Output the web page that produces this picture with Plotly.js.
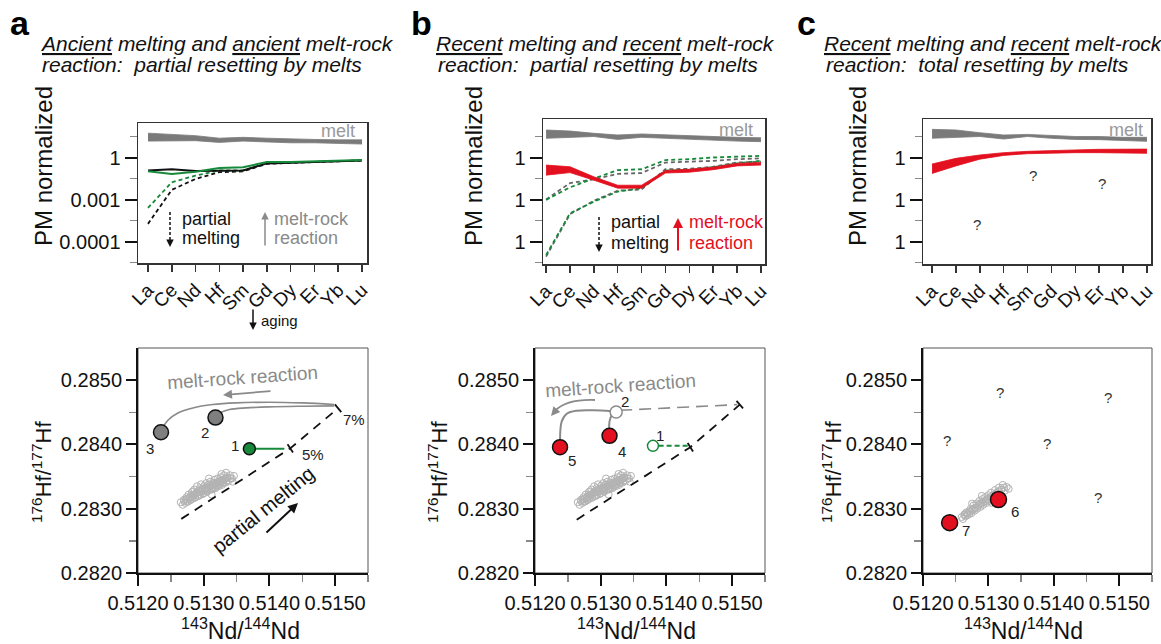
<!DOCTYPE html>
<html><head><meta charset="utf-8">
<script src="https://cdn.plot.ly/plotly-3.0.1.min.js"></script>
<style>html,body{margin:0;padding:0;background:#fff}#chart{width:1161px;height:644px}</style>
</head><body><div id="chart"></div>
<script>
// ---------- DATA ----------
const elements = ['La','Ce','Nd','Hf','Sm','Gd','Dy','Er','Yb','Lu'];
// PM-normalized values, in decade positions of the drawn axis (3 = "1", 2 = "0.001", 1 = "0.0001")
const pmTickVals = [1, 2, 3];
const pmTickText = ['0.0001', '0.001', '1'];
const pmTickTextClipped = ['1', '1', '1'];
const pmMinorVals = [0.5, 1.5, 2.5, 3.5];

// panel a (ancient)
const meltA_hi = [3.58,3.55,3.52,3.46,3.48,3.46,3.44,3.43,3.42,3.42];
const meltA_lo = [3.39,3.40,3.40,3.36,3.39,3.37,3.35,3.35,3.33,3.32];
const ancientSolidBlack = [2.69,2.72,2.68,2.68,2.69,2.86,2.88,2.90,2.92,2.93];
const ancientSolidGreen = [2.67,2.61,2.66,2.75,2.77,2.89,2.89,2.91,2.93,2.94];
const ancientDashBlack  = [1.42,2.23,2.49,2.65,2.67,2.85,2.87,2.89,2.91,2.93];
const ancientDashGreen  = [1.80,2.41,2.57,2.69,2.69,2.87,2.88,2.90,2.92,2.93];

// panel b (recent, partial)
const meltB_hi = [3.655,3.63,3.576,3.536,3.56,3.536,3.52,3.50,3.48,3.47];
const meltB_lo = [3.457,3.48,3.50,3.43,3.48,3.457,3.43,3.417,3.39,3.377];
const redB_hi = [2.82,2.78,2.54,2.34,2.34,2.69,2.72,2.77,2.86,2.88];
const redB_lo = [2.58,2.64,2.46,2.27,2.27,2.63,2.65,2.71,2.80,2.82];
const dashGreenUpB = [1.99,2.29,2.50,2.70,2.72,2.94,2.96,3.00,3.02,3.04];
const dashGrayUpB  = [2.00,2.39,2.48,2.61,2.63,2.88,2.90,2.92,2.96,2.98];
const dashGreenLoB = [0.68,1.67,1.95,2.19,2.27,2.69,2.70,2.77,2.86,2.92];
const dashGrayLoB  = [0.64,1.65,1.97,2.21,2.24,2.72,2.73,2.78,2.88,2.90];

// panel c (recent, total)
const meltC_hi = [3.67,3.655,3.59,3.536,3.55,3.52,3.50,3.50,3.48,3.48];
const meltC_lo = [3.457,3.48,3.50,3.44,3.50,3.457,3.43,3.425,3.40,3.385];
const redC_hi = [2.845,2.98,3.06,3.115,3.147,3.17,3.18,3.195,3.195,3.20];
const redC_lo = [2.62,2.80,2.96,3.05,3.09,3.107,3.115,3.115,3.115,3.10];

// isotope axes
const ndTickVals = [0.512, 0.513, 0.514, 0.515];
const ndTickText = ['0.5120', '0.5130', '0.5140', '0.5150'];
const ndMinorVals = [0.5125, 0.5135, 0.5145, 0.5155];
const hfTickVals = [0.282, 0.283, 0.284, 0.285];
const hfTickText = ['0.2820', '0.2830', '0.2840', '0.2850'];
const hfMinorVals = [0.2825, 0.2835, 0.2845];

// peridotite field (panels a, b)
const cloudNd = [0.51265,0.51268,0.51270,0.51272,0.51274,0.51276,0.51277,0.51279,0.51280,0.51282,0.51283,0.51285,0.51286,0.51287,0.51289,0.51290,0.51291,0.51293,0.51294,0.51295,0.51296,0.51297,0.51298,0.51300,0.51301,0.51302,0.51303,0.51304,0.51305,0.51306,0.51307,0.51308,0.51309,0.51310,0.51311,0.51312,0.51313,0.51314,0.51315,0.51316,0.51317,0.51318,0.51319,0.51320,0.51321,0.51322,0.51323,0.51324,0.51325,0.51326,0.51327,0.51328,0.51329,0.51330,0.51331,0.51332,0.51334,0.51336,0.51338,0.51340,0.51343,0.51346,0.51334,0.51327,0.51284,0.51344,0.51308,0.51312,
  0.51270,0.51273,0.51276,0.51279,0.51282,0.51285,0.51288,0.51291,0.51294,0.51297,0.51300,0.51303,0.51306,0.51309,0.51312,0.51315,0.51318,0.51321,0.51324,0.51327,0.51330,0.51333,0.51336,0.51275,0.51281,0.51287,0.51293,0.51299,0.51305,0.51311,0.51317,0.51323,0.51329,0.51335,0.51341];
const cloudHf = [0.28310,0.28306,0.28314,0.28309,0.28318,0.28311,0.28322,0.28313,0.28319,0.28326,0.28316,0.28322,0.28330,0.28318,0.28325,0.28335,0.28320,0.28328,0.28332,0.28322,0.28338,0.28327,0.28331,0.28324,0.28336,0.28329,0.28333,0.28340,0.28326,0.28331,0.28337,0.28329,0.28334,0.28342,0.28331,0.28337,0.28330,0.28340,0.28334,0.28345,0.28338,0.28332,0.28341,0.28336,0.28347,0.28340,0.28335,0.28343,0.28338,0.28349,0.28342,0.28337,0.28345,0.28340,0.28352,0.28346,0.28341,0.28349,0.28344,0.28352,0.28347,0.28351,0.28356,0.28354,0.28327,0.28342,0.28347,0.28322,
  0.28312,0.28315,0.28316,0.28317,0.28320,0.28321,0.28323,0.28325,0.28326,0.28328,0.28330,0.28331,0.28333,0.28335,0.28336,0.28338,0.28339,0.28341,0.28342,0.28344,0.28345,0.28347,0.28348,0.28311,0.28314,0.28317,0.28320,0.28323,0.28327,0.28330,0.28333,0.28337,0.28340,0.28343,0.28347];
// peridotite field (panel c)
const cloudCNd = [0.51259,0.51261,0.51263,0.51265,0.51266,0.51268,0.51270,0.51271,0.51273,0.51274,0.51276,0.51277,0.51279,0.51280,0.51282,0.51283,0.51285,0.51286,0.51288,0.51289,0.51291,0.51292,0.51294,0.51295,0.51297,0.51298,0.51300,0.51301,0.51303,0.51304,0.51306,0.51308,0.51310,0.51312,0.51314,0.51316,0.51318,0.51320,0.51322,0.51325,0.51328,0.51331,0.51275,0.51290,0.51305,
  0.51264,0.51268,0.51272,0.51276,0.51280,0.51284,0.51288,0.51292,0.51296,0.51300,0.51304,0.51308,0.51312,0.51316,0.51320,0.51324];
const cloudCHf = [0.28287,0.28284,0.28291,0.28288,0.28294,0.28290,0.28296,0.28292,0.28300,0.28293,0.28299,0.28305,0.28297,0.28302,0.28308,0.28300,0.28306,0.28312,0.28303,0.28309,0.28315,0.28306,0.28312,0.28318,0.28309,0.28315,0.28321,0.28312,0.28318,0.28325,0.28315,0.28322,0.28329,0.28318,0.28326,0.28333,0.28322,0.28330,0.28337,0.28328,0.28334,0.28331,0.28308,0.28320,0.28309,
  0.28290,0.28293,0.28296,0.28298,0.28301,0.28304,0.28307,0.28310,0.28312,0.28315,0.28318,0.28321,0.28324,0.28327,0.28330,0.28333];

// panel a isotope model
const meltLineA_Nd = [0.512659, 0.514317, 0.515045];
const meltLineA_Hf = [0.282842, 0.283939, 0.284563];
const react3A_Nd = [0.514985,0.514504,0.513998,0.513492,0.513138,0.512835,0.512607,0.512455,0.512379];
const react3A_Hf = [0.284621,0.284646,0.284657,0.284646,0.284620,0.284568,0.284490,0.284376,0.284262];
const react2A_Nd = [0.514985,0.514504,0.513998,0.513644,0.513391,0.513239];
const react2A_Hf = [0.284600,0.284594,0.284584,0.284568,0.284542,0.284490];
const greenLineA_Nd = [0.513695, 0.514227];
const greenLineA_Hf = [0.283934, 0.283934];
const grayPtsA_Nd = [0.512350, 0.513179];
const grayPtsA_Hf = [0.284190, 0.284418];
const greenPtA_Nd = [0.513695];
const greenPtA_Hf = [0.283934];

// panel b isotope model
const meltLineB_Nd = [0.512635, 0.514364, 0.515116];
const meltLineB_Hf = [0.282830, 0.283957, 0.284619];
const grayDashB_Nd = [0.513296, 0.515076];
const grayDashB_Hf = [0.284531, 0.284619];
const curve5B_Nd = [0.513169,0.512890,0.512635,0.512483,0.512407,0.512381];
const curve5B_Hf = [0.284515,0.284531,0.284525,0.284478,0.284358,0.284071];
const curve4B_Nd = [0.513169,0.513134,0.513129];
const curve4B_Hf = [0.284463,0.284358,0.284228];
const greenDashB_Nd = [0.513881, 0.514339];
const greenDashB_Hf = [0.283978, 0.283978];
const openPtB_Nd = [0.513235];
const openPtB_Hf = [0.284504];
const redPtsB_Nd = [0.513134, 0.512381];
const redPtsB_Hf = [0.284134, 0.283957];
const greenOpenB_Nd = [0.513795];
const greenOpenB_Hf = [0.283978];

// panel c isotope
const redPtsC_Nd = [0.513154, 0.512407];
const redPtsC_Hf = [0.283143, 0.282783];

// ---------- LAYOUT HELPERS ----------
const W = 1161, H = 644;
const F = 'Liberation Sans, Arial, sans-serif';
const fx = p => p / W;
const fy = p => 1 - p / H;
const GREEN = '#16893a', RED = '#e3101f', GRAY = '#8a8a8a', MELT = '#7a7a7a';

function catAxis(l, r, range) {
  return {domain:[fx(l), fx(r)], type:'category', categoryorder:'array', categoryarray:elements,
    range:range, tickmode:'array', tickvals:elements, ticks:'outside', ticklen:7, tickwidth:1.5,
    tickcolor:'#333', tickangle:-45, tickfont:{family:F, size:19, color:'#111'},
    showline:true, linecolor:'#333', linewidth:1.5, mirror:true, showgrid:false, zeroline:false, fixedrange:true};
}
function pmAxis(top, bottom, text) {
  const unit = 42, one = 157.5;
  return {domain:[fy(bottom), fy(top)], range:[3 - (bottom-one)/unit, 3 + (one-top)/unit],
    tickmode:'array', tickvals:pmTickVals, ticktext:text, ticks:'outside', ticklen:12, tickwidth:2,
    tickcolor:'#111', tickfont:{family:F, size:20, color:'#111'},
    minor:{tickmode:'array', tickvals:pmMinorVals, ticks:'outside', ticklen:7, tickwidth:1.5, tickcolor:'#888'},
    showline:true, linecolor:'#333', linewidth:1.5, mirror:true, showgrid:false, zeroline:false, fixedrange:true};
}
function ndAxis(l, r) {
  return {domain:[fx(l), fx(r)], range:[0.512, 0.5155], tickmode:'array', tickvals:ndTickVals, ticktext:ndTickText,
    ticks:'outside', ticklen:11, tickwidth:2, tickcolor:'#111', tickfont:{family:F, size:20, color:'#111'},
    minor:{tickmode:'array', tickvals:ndMinorVals, ticks:'outside', ticklen:7, tickwidth:1.5, tickcolor:'#888'},
    showline:true, linecolor:'#111', linewidth:2, showgrid:false, zeroline:false, fixedrange:true};
}
function hfAxis() {
  return {domain:[fy(573), fy(348)], range:[0.282, 0.2855], tickmode:'array', tickvals:hfTickVals, ticktext:hfTickText,
    ticks:'outside', ticklen:10, tickwidth:2, tickcolor:'#111', tickfont:{family:F, size:20, color:'#111'},
    minor:{tickmode:'array', tickvals:hfMinorVals, ticks:'outside', ticklen:7, tickwidth:1.5, tickcolor:'#888'},
    showline:true, linecolor:'#111', linewidth:2, showgrid:false, zeroline:false, fixedrange:true};
}

// ---------- TRACES ----------
const traces = [];
function line(xa, ya, x, y, color, width, dash, extra) {
  traces.push(Object.assign({x, y, xaxis:xa, yaxis:ya, mode:'lines', line:{color, width, dash:dash||'solid'}, hoverinfo:'skip'}, extra||{}));
}
function band(xa, ya, lo, hi, color) {
  traces.push({x:elements, y:lo, xaxis:xa, yaxis:ya, mode:'lines', line:{color, width:0.8}, hoverinfo:'skip'});
  traces.push({x:elements, y:hi, xaxis:xa, yaxis:ya, mode:'lines', line:{color, width:0.8}, fill:'tonexty', fillcolor:color, hoverinfo:'skip'});
}
function pts(xa, ya, x, y, marker) {
  traces.push({x, y, xaxis:xa, yaxis:ya, mode:'markers', marker, hoverinfo:'skip'});
}
const DASH = '4px,3px';
const CLOUD = {symbol:'circle-open', size:7, color:'#b3b3b3', line:{width:1}};

// top a
band('x','y', meltA_lo, meltA_hi, MELT);
line('x','y', elements, ancientDashBlack, '#111', 1.8, DASH);
line('x','y', elements, ancientDashGreen, GREEN, 1.8, DASH);
line('x','y', elements, ancientSolidBlack, '#111', 2);
line('x','y', elements, ancientSolidGreen, GREEN, 2);

// top b
band('x2','y2', meltB_lo, meltB_hi, MELT);
line('x2','y2', elements, dashGrayUpB, '#666', 1.8, DASH);
line('x2','y2', elements, dashGreenUpB, GREEN, 1.8, DASH);
line('x2','y2', elements, dashGrayLoB, '#666', 1.8, DASH);
line('x2','y2', elements, dashGreenLoB, GREEN, 1.8, DASH);
band('x2','y2', redB_lo, redB_hi, RED);

// top c
band('x3','y3', meltC_lo, meltC_hi, MELT);
band('x3','y3', redC_lo, redC_hi, RED);

// perpendicular end bars on melting lines
const PXX = 65.7 / 0.001, PXY = 64.3 / 0.001;
function bar(xa, ya, xs, ys, i, half) {
  const dx = (xs[i]-xs[i-1])*PXX, dy = (ys[i]-ys[i-1])*PXY;
  const n = Math.hypot(dx, dy), nx = -dy/n, ny = dx/n;
  line(xa, ya, [xs[i]-nx*half/PXX, xs[i]+nx*half/PXX], [ys[i]-ny*half/PXY, ys[i]+ny*half/PXY], '#111', 1.8);
}

// bottom a
pts('x4','y4', cloudNd, cloudHf, CLOUD);
line('x4','y4', meltLineA_Nd, meltLineA_Hf, '#111', 1.8, '9px,7px');
bar('x4','y4', meltLineA_Nd, meltLineA_Hf, 1, 5);
bar('x4','y4', meltLineA_Nd, meltLineA_Hf, 2, 5);
line('x4','y4', react3A_Nd, react3A_Hf, GRAY, 1.6, 'solid', {line:{color:GRAY, width:1.6, shape:'spline'}});
line('x4','y4', react2A_Nd, react2A_Hf, GRAY, 1.6, 'solid', {line:{color:GRAY, width:1.6, shape:'spline'}});
line('x4','y4', greenLineA_Nd, greenLineA_Hf, GREEN, 2);
pts('x4','y4', grayPtsA_Nd, grayPtsA_Hf, {size:15, color:'#7f7f7f', line:{color:'#111', width:1.5}});
pts('x4','y4', greenPtA_Nd, greenPtA_Hf, {size:12, color:GREEN, line:{color:'#111', width:1.5}});

// bottom b
pts('x5','y5', cloudNd, cloudHf, CLOUD);
line('x5','y5', meltLineB_Nd, meltLineB_Hf, '#111', 1.8, '9px,7px');
bar('x5','y5', meltLineB_Nd, meltLineB_Hf, 1, 5);
bar('x5','y5', meltLineB_Nd, meltLineB_Hf, 2, 5);
line('x5','y5', grayDashB_Nd, grayDashB_Hf, GRAY, 1.6, '12px,7px');
line('x5','y5', curve5B_Nd, curve5B_Hf, GRAY, 2, 'solid', {line:{color:GRAY, width:2, shape:'spline'}});
line('x5','y5', curve4B_Nd, curve4B_Hf, GRAY, 2, 'solid', {line:{color:GRAY, width:2, shape:'spline'}});
line('x5','y5', greenDashB_Nd, greenDashB_Hf, GREEN, 2, '5px,3px');
pts('x5','y5', openPtB_Nd, openPtB_Hf, {size:12, color:'#fff', line:{color:'#8a8a8a', width:1.5}});
pts('x5','y5', redPtsB_Nd, redPtsB_Hf, {size:15, color:RED, line:{color:'#111', width:1.5}});
pts('x5','y5', greenOpenB_Nd, greenOpenB_Hf, {size:11, color:'#fff', line:{color:GREEN, width:1.5}});

// bottom c
pts('x6','y6', cloudCNd, cloudCHf, CLOUD);
pts('x6','y6', redPtsC_Nd, redPtsC_Hf, {size:16, color:RED, line:{color:'#111', width:1.5}});

// ---------- ANNOTATIONS ----------
const ann = [];
function txt(x, y, text, o) {
  ann.push(Object.assign({xref:'paper', yref:'paper', x:fx(x), y:fy(y), text, showarrow:false,
    xanchor:'center', yanchor:'middle', font:{family:F, size:18, color:'#111'}}, o||{}));
}
function arrow(x1, y1, x2, y2, color, width) {
  ann.push({xref:'paper', yref:'paper', x:fx(x2), y:fy(y2), ax:x1-x2, ay:y1-y2, axref:'pixel', ayref:'pixel',
    showarrow:true, arrowhead:2, arrowsize:1, arrowwidth:width, arrowcolor:color, text:''});
}
const titleFont = {family:F, size:21, color:'#111'};
// panel letters
txt(20, 23, '<b>a</b>', {font:{family:F, size:34, color:'#000'}});
txt(421, 23, '<b>b</b>', {font:{family:F, size:34, color:'#000'}});
txt(806, 23, '<b>c</b>', {font:{family:F, size:34, color:'#000'}});
// panel titles
txt(38, 43, '<i><u>Ancient</u> melting and <u>ancient</u> melt-rock</i>', {xanchor:'left', font:titleFont});
txt(40, 65, '<i>reaction:&nbsp; partial resetting by melts</i>', {xanchor:'left', font:titleFont});
txt(434, 43, '<i><u>Recent</u> melting and <u>recent</u> melt-rock</i>', {xanchor:'left', font:titleFont});
txt(436, 65, '<i>reaction:&nbsp; partial resetting by melts</i>', {xanchor:'left', font:titleFont});
txt(822, 43, '<i><u>Recent</u> melting and <u>recent</u> melt-rock</i>', {xanchor:'left', font:titleFont});
txt(824, 65, '<i>reaction:&nbsp; total resetting by melts</i>', {xanchor:'left', font:titleFont});
// axis titles
[43, 473, 857].forEach(x => txt(x, 166, 'PM normalized', {textangle:-90, font:{family:F, size:24, color:'#111'}}));
[42, 438, 832].forEach(x => txt(x, 472, '<sup>176</sup>Hf/<sup>177</sup>Hf', {textangle:-90, font:{family:F, size:22, color:'#111'}}));
[240, 636, 1023].forEach(x => txt(x, 629, '<sup>143</sup>Nd/<sup>144</sup>Nd', {font:{family:F, size:23, color:'#111'}}));
// melt labels
txt(357, 131, 'melt', {xanchor:'right', font:{family:F, size:18, color:'#999'}});
txt(755, 130, 'melt', {xanchor:'right', font:{family:F, size:18, color:'#999'}});
txt(1145, 130, 'melt', {xanchor:'right', font:{family:F, size:18, color:'#999'}});
// top a arrows/text
arrow(170, 240, 170, 247, '#111', 1.5);
txt(180, 219, 'partial', {xanchor:'left'});
txt(180, 238, 'melting', {xanchor:'left'});
arrow(265, 247, 265, 212, GRAY, 1.5);
txt(272, 219, 'melt-rock', {xanchor:'left', font:{family:F, size:18, color:GRAY}});
txt(272, 238, 'reaction', {xanchor:'left', font:{family:F, size:18, color:GRAY}});
arrow(253, 308, 253, 330, '#111', 1.5);
txt(279, 320, 'aging', {font:{family:F, size:15, color:'#111'}});
// top b arrows/text
arrow(599, 245, 599, 252, '#111', 1.5);
txt(609, 222, 'partial', {xanchor:'left'});
txt(609, 243, 'melting', {xanchor:'left'});
arrow(678, 252, 678, 218, RED, 2);
txt(687, 222, 'melt-rock', {xanchor:'left', font:{family:F, size:18, color:RED}});
txt(687, 243, 'reaction', {xanchor:'left', font:{family:F, size:18, color:RED}});
// top c question marks
[[1033,175],[1102,183],[977,225]].forEach(([x,y]) => txt(x, y, '?', {font:{family:F, size:15, color:'#333'}}));
// bottom a
txt(242, 377, 'melt-rock reaction', {textangle:-4, font:{family:F, size:19, color:GRAY}});
arrow(272, 391, 223, 395, GRAY, 1.8);
txt(263, 510, 'partial melting', {textangle:-39, font:{family:F, size:20, color:'#111'}});
arrow(265, 534, 298, 503, '#111', 2);
const numFont = {family:F, size:15, color:'#222'};
txt(150, 448, '3', {font:numFont}); txt(205, 432, '2', {font:numFont}); txt(235, 445, '1', {font:numFont});
txt(354, 419, '7%', {font:numFont}); txt(313, 454, '5%', {font:numFont});
// bottom b
txt(621, 385, 'melt-rock reaction', {textangle:-4, font:{family:F, size:19, color:GRAY}});
arrow(557, 409, 551, 416, GRAY, 1.8);
txt(625, 401, '2', {font:numFont}); txt(622, 451, '4', {font:numFont});
txt(572, 460, '5', {font:numFont}); txt(660, 436, '1', {font:numFont});
// bottom c
txt(1015, 511, '6', {font:numFont}); txt(966, 530, '7', {font:numFont});
[[1000,392],[1108,397],[947,440],[1047,443],[1098,497]].forEach(([x,y]) => txt(x, y, '?', {font:{family:F, size:15, color:'#333'}}));

// ---------- SHAPES ----------
const shapes = [];
['x4','x5','x6'].forEach((xa, i) => {
  const ya = ['y4','y5','y6'][i];
  shapes.push({type:'rect', xref:xa+' domain', yref:ya+' domain', x0:0, x1:1, y0:0, y1:1, line:{color:'#555', width:1}, layer:'below'});
});
shapes.push({type:'line', xref:'paper', yref:'paper', x0:fx(170), x1:fx(170), y0:fy(212), y1:fy(243), line:{color:'#111', width:1.5, dash:'3px,2px'}});
shapes.push({type:'line', xref:'paper', yref:'paper', x0:fx(599), x1:fx(599), y0:fy(217), y1:fy(248), line:{color:'#111', width:1.5, dash:'3px,2px'}});
shapes.push({type:'path', xref:'paper', yref:'paper',
  path:`M ${fx(595)} ${fy(400)} Q ${fx(566)} ${fy(399)} ${fx(555)} ${fy(411)}`, line:{color:GRAY, width:1.8}});

const layout = {
  width:W, height:H, margin:{l:0, r:0, t:0, b:0}, paper_bgcolor:'#fff', plot_bgcolor:'rgba(0,0,0,0)',
  showlegend:false, hovermode:false, font:{family:F},
  xaxis: Object.assign(catAxis(138, 367, [-0.42, 9.21]), {anchor:'y'}),
  yaxis: Object.assign(pmAxis(123, 263, pmTickText), {anchor:'x'}),
  xaxis2: Object.assign(catAxis(543, 765, [-0.13, 9.17]), {anchor:'y2'}),
  yaxis2: Object.assign(pmAxis(119, 264, pmTickTextClipped), {anchor:'x2'}),
  xaxis3: Object.assign(catAxis(923, 1151, [-0.38, 9.17]), {anchor:'y3'}),
  yaxis3: Object.assign(pmAxis(119, 264, pmTickTextClipped), {anchor:'x3'}),
  xaxis4: Object.assign(ndAxis(138, 368), {anchor:'y4'}),
  yaxis4: Object.assign(hfAxis(), {anchor:'x4'}),
  xaxis5: Object.assign(ndAxis(535, 765), {anchor:'y5'}),
  yaxis5: Object.assign(hfAxis(), {anchor:'x5'}),
  xaxis6: Object.assign(ndAxis(923, 1152), {anchor:'y6'}),
  yaxis6: Object.assign(hfAxis(), {anchor:'x6'}),
  annotations: ann, shapes: shapes
};
Plotly.newPlot('chart', traces, layout, {displayModeBar:false, staticPlot:true});
</script></body></html>
